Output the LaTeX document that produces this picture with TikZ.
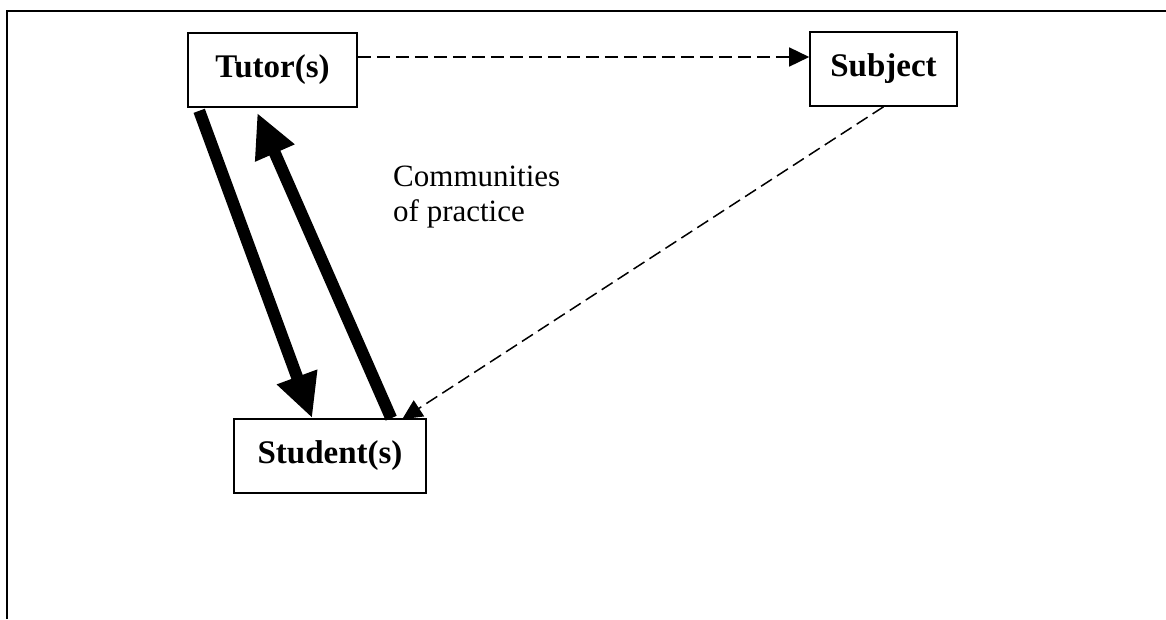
\documentclass[tikz,border=0pt]{standalone}
\usepackage{fontspec}
\setmainfont{Liberation Serif}
\usetikzlibrary{arrows.meta,calc}

\begin{document}
\begin{tikzpicture}[x=1pt,y=-1pt,
  box/.style={draw,line width=1.6pt,inner sep=0pt,minimum height=74pt,
    font=\fontsize{33}{38}\selectfont\bfseries},
  thickarrow/.style={line width=12pt,-{Triangle[length=44pt,width=40pt]}},
  dasharrow/.style={line width=1.5pt,dash pattern=on 13pt off 6pt,
    -{Triangle[length=20pt,width=19pt]}},
  label/.style={align=left,inner sep=0pt,font=\fontsize{31}{35}\selectfont}]
\useasboundingbox (0,0) rectangle (1166,619);

% frame (left and top edges)
\draw[line width=2pt] (7,619) -- (7,11) -- (1166,11);

% the three actors
\node[box,minimum width=169pt] (tutor)   at (272.5,70) {Tutor(s)};
\node[box,minimum width=147pt] (subject) at (883.5,69) {Subject};
\node[box,minimum width=192pt] (student) at (330,456)  {Student(s)};

% caption
\node[label,anchor=north west] (cop) at (393,166) {Communities\\of practice};

% tutor <-> student exchange
\draw[thickarrow] ($(tutor.south west)+(12,3)$) -- ($(student.north west)+(79,0)$);
\draw[thickarrow] ($(student.north west)+(158,0)$) -- ($(tutor.south west)+(70,5)$);

% weaker links through the subject
\draw[dasharrow] ($(tutor.east)+(0,-13)$) -- ($(subject.west)+(0,-12)$);
\draw[dasharrow] (subject.south) -- ($(student.north west)+(169,1)$);
\end{tikzpicture}
\end{document}
